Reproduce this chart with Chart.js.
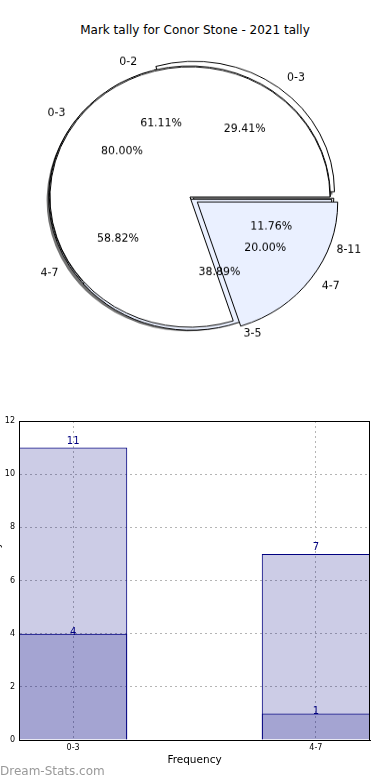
<!DOCTYPE html>
<html>
<head>
<meta charset="utf-8">
<script src="https://cdn.jsdelivr.net/npm/chart.js@4.4.1/dist/chart.umd.min.js"></script>
<style>
  body { margin: 0; width: 390px; height: 780px; overflow: hidden; background: #fff; position: relative; font-family: "DejaVu Sans", sans-serif; }
  #title { position: absolute; top: 23px; left: 0; width: 390px; text-align: center; font-size: 12px; color: #000; }
  .pie { position: absolute; left: 0; top: 27px; width: 380px; height: 340px; transform: scaleY(0.93); transform-origin: 50% 50%; }
  .pie.shade { transform: translate(-2px, 3px) scaleY(0.93); filter: blur(0.6px); }
  #barBox { position: absolute; left: -9px; top: 405px; width: 399px; height: 375px; }
  #mark { position: absolute; left: 0; top: 764px; font-size: 12px; color: #999; }
</style>
</head>
<body>
<div id="title">Mark tally for Conor Stone - 2021 tally</div>
<div class="pie shade"><canvas id="pieShade"></canvas></div>
<div class="pie"><canvas id="pieA"></canvas></div>
<div class="pie"><canvas id="pieB"></canvas></div>
<div class="pie"><canvas id="pieC"></canvas></div>
<div id="barBox"><canvas id="bars"></canvas></div>
<div id="mark">Dream-Stats.com</div>

<script>
// pie data (three pies drawn on top of each other)
const pieALabels = ['0-3', '4-7', '8-11'];
const pieAValues = [5, 10, 2];
const pieBLabels = ['0-2', '3-5'];
const pieBValues = [11, 7];
const pieCLabels = ['0-3', '4-7'];
const pieCValues = [4, 1];

// bar data
const barCats = ['0-3', '4-7'];
const barTotal = [11, 7];
const barPart = [4, 1];
const yTicks = [0, 2, 4, 6, 8, 10, 12];

const FONT = '"DejaVu Sans", sans-serif';
const SY = 0.93; // pies are squashed a bit vertically
const WHITE = '#ffffff';
const PALE = '#eaf0ff';
const SHADE = 'rgba(0,0,0,0.55)';

const under = [];

function put(ctx, text, x, y, align) {
  ctx.save();
  ctx.translate(x, y);
  ctx.scale(1, 1 / SY);
  ctx.textAlign = align;
  ctx.textBaseline = 'middle';
  ctx.fillText(text, 0, 0);
  ctx.restore();
}

// all pie texts go on the top canvas so no wedge hides them
const pieLabels = {
  id: 'pieLabels',
  afterDraw(chart) {
    const ctx = chart.ctx;
    ctx.save();
    ctx.fillStyle = '#000';
    ctx.font = '11px ' + FONT;
    under.concat([chart]).forEach(p => {
      const meta = p.getDatasetMeta(0);
      const labels = p.data.labels;
      const vals = p.data.datasets[0].data;
      const total = vals.reduce((a, b) => a + b, 0);
      meta.data.forEach((arc, i) => {
        const mid = (arc.startAngle + arc.endAngle) / 2;
        // chart.js moves an arc by a quarter of its offset
        const off = (arc.options.offset || 0) / 4;
        const cx = arc.x + Math.cos(mid) * off;
        const cy = arc.y + Math.sin(mid) * off;
        const r = arc.outerRadius;
        put(ctx, (vals[i] / total * 100).toFixed(2) + '%', cx + Math.cos(mid) * r * 0.6, cy + Math.sin(mid) * r * 0.6, 'center');
        put(ctx, labels[i], cx + Math.cos(mid) * r * 1.1, cy + Math.sin(mid) * r * 1.1, Math.cos(mid) < 0 ? 'right' : 'left');
      });
    });
    ctx.restore();
  }
};

function makePie(id, labels, values, colors, offsets, border, plugins) {
  // matplotlib goes counter-clockwise from 3 o'clock, chart.js clockwise,
  // so the slices are fed reversed starting at 90deg
  const rev = a => a.slice().reverse();
  return new Chart(document.getElementById(id), {
    type: 'pie',
    data: {
      labels: rev(labels),
      datasets: [{
        data: rev(values),
        backgroundColor: rev(colors),
        offset: rev(offsets),
        borderColor: '#000',
        borderWidth: border
      }]
    },
    options: {
      animation: false,
      responsive: true,
      maintainAspectRatio: false,
      rotation: 90,
      radius: 140,
      events: [],
      plugins: { legend: { display: false }, tooltip: { enabled: false } }
    },
    plugins: plugins
  });
}

const offsA = [28, 3, 12];
makePie('pieShade', pieALabels, pieAValues, [SHADE, SHADE, SHADE], offsA, 0, []);
under.push(makePie('pieA', pieALabels, pieAValues, [WHITE, PALE, WHITE], offsA, 1, []));
under.push(makePie('pieB', pieBLabels, pieBValues, [WHITE, PALE], [2, 10], 1, []));
makePie('pieC', pieCLabels, pieCValues, [WHITE, PALE], [0, 36], 1, [pieLabels]);

// bar chart
const frame = {
  id: 'frame',
  afterDraw(chart) {
    const a = chart.chartArea;
    const ctx = chart.ctx;
    ctx.save();
    ctx.strokeStyle = '#000';
    ctx.lineWidth = 1;
    ctx.strokeRect(Math.round(a.left) + 0.5, Math.round(a.top) + 0.5, Math.round(a.right - a.left) - 1, Math.round(a.bottom - a.top));
    ctx.restore();
  }
};

const barValues = {
  id: 'barValues',
  afterDatasetsDraw(chart) {
    const ctx = chart.ctx;
    ctx.save();
    ctx.fillStyle = '#000080';
    ctx.font = '10px ' + FONT;
    ctx.textAlign = 'center';
    ctx.textBaseline = 'alphabetic';
    chart.data.datasets.forEach((ds, d) => {
      chart.getDatasetMeta(d).data.forEach((bar, i) => {
        const lift = d === 1 ? 4 : -1;
        ctx.fillText(String(ds.data[i].y), bar.x, bar.y - lift);
      });
    });
    ctx.restore();
  }
};

const gridStyle = { color: '#b5b5b5', lineWidth: 1, drawTicks: false, offset: false };

new Chart(document.getElementById('bars'), {
  type: 'bar',
  data: {
    datasets: [
      {
        data: barPart.map((v, i) => ({ x: i, y: v })),
        backgroundColor: 'rgba(0,0,128,0.2)',
        borderColor: '#000080',
        borderWidth: 1,
        order: 0
      },
      {
        data: barTotal.map((v, i) => ({ x: i, y: v })),
        backgroundColor: 'rgba(0,0,128,0.2)',
        borderColor: '#000080',
        borderWidth: 1,
        order: 1
      }
    ]
  },
  options: {
    animation: false,
    responsive: true,
    maintainAspectRatio: false,
    events: [],
    layout: { padding: { top: 16, right: 20, bottom: 0, left: 0 } },
    datasets: { bar: { grouped: false, categoryPercentage: 1, barPercentage: 0.446 } },
    plugins: { legend: { display: false }, tooltip: { enabled: false } },
    scales: {
      x: {
        type: 'linear',
        offset: false,
        min: -0.223,
        max: 1.223,
        afterBuildTicks: s => { s.ticks = barCats.map((c, i) => ({ value: i })); },
        afterFit: s => { s.height = 40; },
        ticks: { callback: v => barCats[v], font: { size: 8, family: FONT }, color: '#000', padding: 3, maxRotation: 0 },
        grid: gridStyle,
        border: { color: '#000', dash: [2, 3] },
        title: { display: true, text: 'Frequency', font: { size: 10.5, family: FONT }, color: '#000', padding: { top: 0, bottom: 13 } }
      },
      y: {
        min: 0,
        max: 12,
        afterBuildTicks: s => { s.ticks = yTicks.map(v => ({ value: v })); },
        afterFit: s => { s.width = 28; },
        ticks: { font: { size: 8, family: FONT }, color: '#000', padding: 4 },
        grid: gridStyle,
        border: { color: '#000', dash: [2, 3] },
        title: { display: true, text: 'Total Mark Tally', font: { size: 10, family: FONT }, color: '#000', padding: 0 }
      }
    }
  },
  plugins: [frame, barValues]
});
</script>
</body>
</html>
